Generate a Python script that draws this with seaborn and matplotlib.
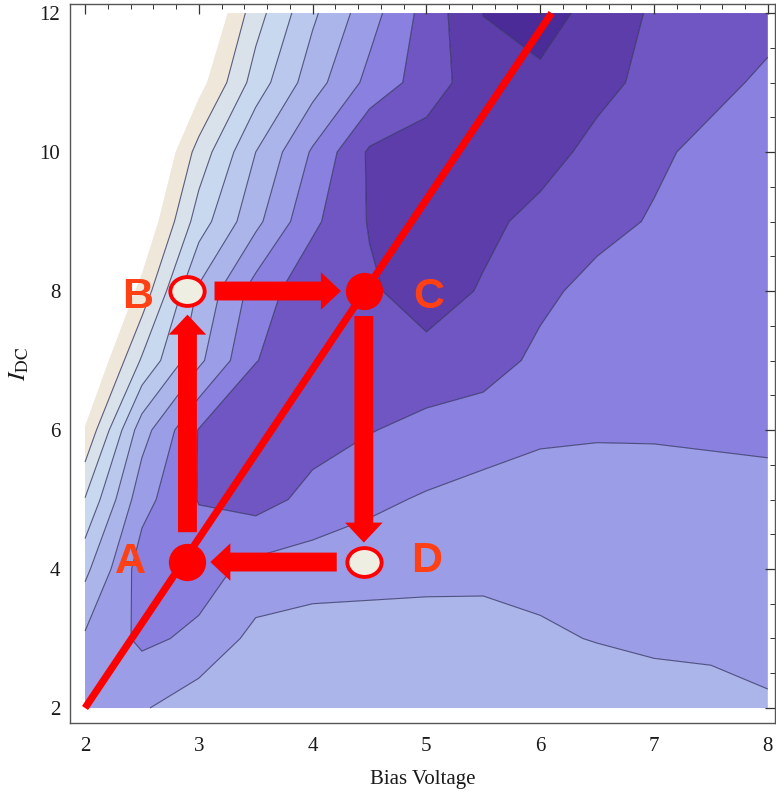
import numpy as np
import matplotlib
matplotlib.use("Agg")
import matplotlib.pyplot as plt
import matplotlib.ticker as mticker
from matplotlib.path import Path
from matplotlib.transforms import Affine2D
import seaborn as sns

# ---------------- data ----------------
bias_voltage = [2.0, 2.5, 3.0, 3.5, 4.0, 4.5, 5.0, 5.5, 6.0, 6.5, 7.0, 7.5, 8.0]
idc_values = [2, 3, 4, 5, 6, 7, 8, 9, 10, 11, 12]

# contour value (band index scale) on each I_DC row, left -> right in bias voltage
z_idc02 = [4.5, 4.9, 5.6, 5.8, 5.85, 5.85, 5.85, 5.85, 5.8, 5.7, 5.5, 5.4, 5.15]
z_idc03 = [4.85, 3.8, 4.2, 5.3, 5.5, 5.55, 5.6, 5.55, 5.15, 4.95, 4.8, 4.75, 4.6]
z_idc04 = [6.26, 3.5, 3.6, 4.3, 4.5, 4.55, 4.6, 4.65, 4.7, 4.7, 4.65, 4.6, 4.55]
z_idc05 = [7.95, 4.35, 2.95, 2.6, 3.3, 3.8, 4.1, 4.3, 4.4, 4.45, 4.4, 4.35, 4.3]
z_idc06 = [9.9, 5.43, 2.95, 2.5, 2.6, 2.95, 3.3, 3.6, 3.85, 3.9, 3.9, 3.85, 3.8]
z_idc07 = [11.5, 7.87, 5.22, 3.02, 2.6, 2.4, 2.35, 2.5, 3.25, 3.45, 3.55, 3.65, 3.7]
z_idc08 = [12.5, 9.65, 5.83, 3.56, 2.3, 2.15, 1.5, 2.1, 2.75, 3.35, 3.5, 3.6, 3.65]
z_idc09 = [13, 11, 7.5, 5.26, 3.2, 1.93, 1.4, 1.75, 2.3, 2.65, 3.1, 3.4, 3.55]
z_idc10 = [14, 12, 8.6, 6.0, 3.87, 1.85, 1.5, 1.35, 1.6, 2.3, 2.8, 3.3, 3.5]
z_idc11 = [14, 12, 10.4, 7.55, 5.45, 3.7, 2.5, 1.4, 1.2, 1.7, 2.3, 2.7, 3.2]
z_idc12 = [16, 14, 11.6, 8.42, 6.18, 4.41, 2.62, 0.98, 0.6, 1.33, 2.15, 2.4, 2.65]

# straight operating line
line_v = [2.0, 6.1]
line_i = [2.0, 12.0]

# cycle points
cycle_labels = ["A", "B", "C", "D"]
cycle_v = [2.9, 2.9, 4.45, 4.45]
cycle_i = [4.1, 8.0, 8.0, 4.1]
cycle_filled = [True, False, True, False]

x_ticks = [2, 3, 4, 5, 6, 7, 8]
y_ticks = [2, 4, 6, 8, 10, 12]

# ---------------- style ----------------
sns.set_theme(style="white")
plt.rcParams["font.family"] = ["Liberation Serif", "DejaVu Serif"]
plt.rcParams["mathtext.fontset"] = "stix"

band_levels = [-5, 1, 2, 3, 4, 5, 6, 7, 8, 9, 10, 40]
band_colors = ["#4b2b98", "#5c3daa", "#7056c2", "#8a80df", "#9c9de7",
               "#abb5ea", "#bac8ee", "#c8d8ef", "#d9e2ea", "#efe8da", "#ffffff"]
line_levels = [1, 2, 3, 4, 5, 6, 7, 8, 9]

fig = plt.figure(figsize=(7.76, 7.93), dpi=100)
ax = fig.add_axes([70 / 776, (793 - 723) / 793, 705 / 776, 719 / 793])

Z = np.array([z_idc02, z_idc03, z_idc04, z_idc05, z_idc06, z_idc07,
              z_idc08, z_idc09, z_idc10, z_idc11, z_idc12])
X, Y = np.meshgrid(bias_voltage, idc_values)

ax.contourf(X, Y, Z, levels=band_levels, colors=band_colors, zorder=0, antialiased=True)
ax.contour(X, Y, Z, levels=line_levels, colors="#2c2c5a", linewidths=0.8, alpha=0.75, zorder=1)

# red line
sns.lineplot(x=line_v, y=line_i, ax=ax, color="#ff0000", linewidth=5.2,
             zorder=3, legend=False, solid_capstyle="butt")

# arrows A->B->C->D->A
shrinks = [(21.5, 17.0), (19.5, 16.5), (18.0, 14.0), (19.5, 16.5)]
for k in range(4):
    j = (k + 1) % 4
    ax.annotate("", xy=(cycle_v[j], cycle_i[j]), xytext=(cycle_v[k], cycle_i[k]),
                arrowprops=dict(arrowstyle="simple,head_length=0.72,head_width=1.35,tail_width=0.68",
                                mutation_scale=20, color="#ff0000", lw=0,
                                shrinkA=shrinks[k][0], shrinkB=shrinks[k][1]),
                zorder=4)

# markers
ellipse = Path.unit_circle().transformed(Affine2D().scale(1.0, 0.84))
fv = [v for v, f in zip(cycle_v, cycle_filled) if f]
fi = [v for v, f in zip(cycle_i, cycle_filled) if f]
ov = [v for v, f in zip(cycle_v, cycle_filled) if not f]
oi = [v for v, f in zip(cycle_i, cycle_filled) if not f]
sns.scatterplot(x=fv, y=fi, ax=ax, marker="o", s=720, color="#ff0000",
                edgecolor="#ff0000", linewidth=0, zorder=5, legend=False)
sns.scatterplot(x=ov, y=oi, ax=ax, marker=ellipse, s=610, color="#efeee2",
                edgecolor="#ff0000", linewidth=2.8, zorder=5, legend=False)

# point labels
label_offsets = {"A": (-41, 0), "B": (-36, -4), "C": (47, -4), "D": (45, 1)}
for lab, v, i in zip(cycle_labels, cycle_v, cycle_i):
    ax.annotate(lab, xy=(v, i), xytext=label_offsets[lab], textcoords="offset points",
                ha="center", va="center", fontsize=31, fontweight="bold",
                family=["Liberation Sans", "DejaVu Sans"], color="#ff4014", zorder=6)

# axes
ax.set_xlim(1.868, 8.063)
ax.set_ylim(1.784, 12.13)
ax.set_xticks(x_ticks)
ax.set_yticks(y_ticks)
ax.xaxis.set_minor_locator(mticker.MultipleLocator(0.2))
ax.yaxis.set_minor_locator(mticker.MultipleLocator(0.5))
ax.tick_params(which="both", direction="in", top=True, right=True,
               labeltop=False, labelright=False, colors="#333333", labelcolor="#1a1a1a")
ax.tick_params(which="major", length=7, width=0.9, labelsize=15)
ax.tick_params(axis="x", which="major", pad=10)
ax.tick_params(axis="y", which="major", pad=7)
ax.tick_params(which="minor", length=3.5, width=0.7)
for sp in ax.spines.values():
    sp.set_color("#555555")
    sp.set_linewidth(1.0)
ax.set_xlabel("Bias Voltage", fontsize=15, labelpad=10, color="#1a1a1a")
ax.set_ylabel(r"$I_{\mathrm{DC}}$", fontsize=18, labelpad=6, color="#1a1a1a")
ax.grid(False)

fig.savefig("out.png", dpi=100)
